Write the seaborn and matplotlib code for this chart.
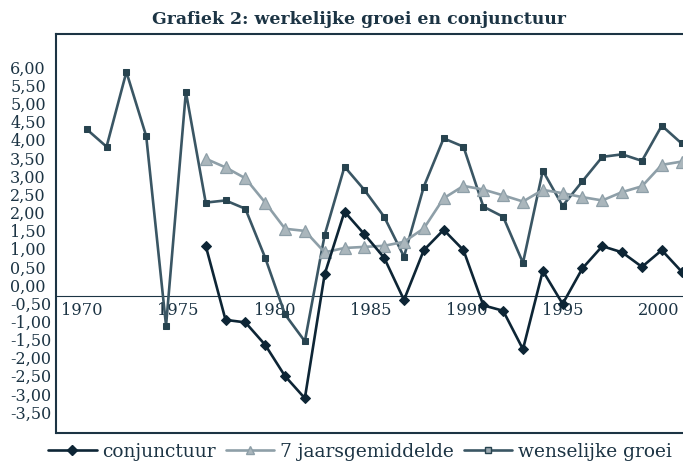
import numpy as np
import pandas as pd
import matplotlib
matplotlib.use("Agg")
import matplotlib.pyplot as plt
from matplotlib.lines import Line2D
import seaborn as sns

# ---------------- data ----------------
years_wg = list(range(1970, 2001))
wenselijke_groei = [4.29, 3.81, 5.87, 4.10, -1.12, 5.32, 2.27, 2.33, 2.10, 0.75,
                    -0.81, -1.55, 1.38, 3.26, 2.62, 1.88, 0.78, 2.71, 4.04, 3.81,
                    2.16, 1.88, 0.61, 3.15, 2.18, 2.86, 3.53, 3.60, 3.42, 4.39, 3.90]

years_short = list(range(1976, 2001))
zeven_jaars = [3.48, 3.24, 2.94, 2.27, 1.55, 1.49, 0.90, 1.02, 1.05, 1.08,
               1.19, 1.56, 2.39, 2.73, 2.63, 2.47, 2.30, 2.62, 2.53, 2.42,
               2.33, 2.56, 2.72, 3.31, 3.40]
conjunctuur = [1.08, -0.96, -1.03, -1.65, -2.51, -3.12, 0.30, 2.02, 1.40, 0.75,
               -0.41, 0.96, 1.52, 0.96, -0.56, -0.71, -1.77, 0.39, -0.52, 0.46,
               1.07, 0.90, 0.50, 0.96, 0.37]

tick_years = [1970, 1975, 1980, 1985, 1990, 1995, 2000]
y_ticks = [v / 2 for v in range(-7, 13)]  # -3.5 .. 6.0

title = "Grafiek 2: werkelijke groei en conjunctuur"
names = ["conjunctuur", "7 jaarsgemiddelde", "wenselijke groei"]

# ---------------- style ----------------
TXT = "#1c3444"
C_CONJ = "#0d2535"
C_GEM_LINE = "#8e9fa8"
C_GEM_FACE = "#aab6bc"
C_WG_LINE = "#3a5664"
C_WG_MARK = "#27434f"
LW = 1.9

sns.set_theme(style="white")
plt.rcParams["font.family"] = ["DejaVu Serif"]
plt.rcParams["text.color"] = TXT

fig = plt.figure(figsize=(6.83, 4.62), dpi=100)
ax = fig.add_axes([56 / 683, 1 - 433 / 462, 1 - 56 / 683, (433 - 34) / 462])

df_wg = pd.DataFrame({"jaar": years_wg, "waarde": wenselijke_groei})
df_gem = pd.DataFrame({"jaar": years_short, "waarde": zeven_jaars})
df_conj = pd.DataFrame({"jaar": years_short, "waarde": conjunctuur})

sns.lineplot(data=df_wg, x="jaar", y="waarde", ax=ax, color=C_WG_LINE, lw=LW,
             marker="s", markersize=4.6, markerfacecolor=C_WG_MARK,
             markeredgecolor=C_WG_MARK, zorder=3)
sns.lineplot(data=df_gem, x="jaar", y="waarde", ax=ax, color=C_GEM_LINE, lw=LW,
             marker="^", markersize=8, markerfacecolor=C_GEM_FACE,
             markeredgecolor=C_GEM_LINE, markeredgewidth=0.9, zorder=4)
sns.lineplot(data=df_conj, x="jaar", y="waarde", ax=ax, color=C_CONJ, lw=LW,
             marker="D", markersize=5, markerfacecolor=C_CONJ,
             markeredgecolor=C_CONJ, zorder=5)

ax.set_xlim(1968.45, 2000.07)
ax.set_ylim(-4.077, 6.915)
ax.set_xlabel("")
ax.set_ylabel("")

# y ticks
ax.set_yticks(y_ticks)
ax.set_yticklabels([f"{v:.2f}".replace(".", ",") for v in y_ticks])
ax.tick_params(axis="y", length=0, pad=33, labelsize=11.5, labelcolor=TXT)
for lab in ax.get_yticklabels():
    lab.set_horizontalalignment("left")

# x ticks: labels sit just below the dotted axis line
axis_level = -0.30
tick_shift, tick_scale = -0.24, 0.97
ax.set_xticks([1970 + tick_shift + (y - 1970) * tick_scale for y in tick_years])
ax.set_xticklabels([str(y) for y in tick_years])
ax.tick_params(axis="x", length=0, pad=4.5, labelsize=11.7, labelcolor=TXT)

ax.spines["bottom"].set_position(("data", axis_level))
ax.spines["bottom"].set_linestyle((0, (1.2, 1.0)))
ax.spines["bottom"].set_linewidth(0.8)
ax.spines["bottom"].set_color(TXT)
ax.spines["right"].set_visible(False)
for s in ["left", "top"]:
    ax.spines[s].set_color(TXT)
    ax.spines[s].set_linewidth(1.5)
ax.add_line(Line2D([0, 1], [0, 0], transform=ax.transAxes, color=TXT,
                   lw=1.5, clip_on=False))
ax.grid(False)

# title
fig.text(359 / 683, 1 - 19 / 462, title, ha="center", va="center",
         fontsize=12.4, fontweight="bold", color=TXT)

# legend
handles = [
    Line2D([], [], color=C_CONJ, lw=LW, marker="D", markersize=5,
           markerfacecolor=C_CONJ, markeredgecolor=C_CONJ),
    Line2D([], [], color=C_GEM_LINE, lw=LW, marker="^", markersize=6,
           markerfacecolor=C_GEM_FACE, markeredgecolor=C_GEM_LINE),
    Line2D([], [], color=C_WG_LINE, lw=LW, marker="s", markersize=5,
           markerfacecolor="#9aa8b0", markeredgecolor=C_WG_MARK),
]
leg = fig.legend(handles, names, loc="center", ncol=3,
                 bbox_to_anchor=(360 / 683, 1 - 452 / 462), frameon=False,
                 fontsize=13.4, handlelength=2.6, handletextpad=0.3,
                 columnspacing=0.55, borderpad=0)
for t in leg.get_texts():
    t.set_color(TXT)

fig.savefig("out.png", dpi=100)
